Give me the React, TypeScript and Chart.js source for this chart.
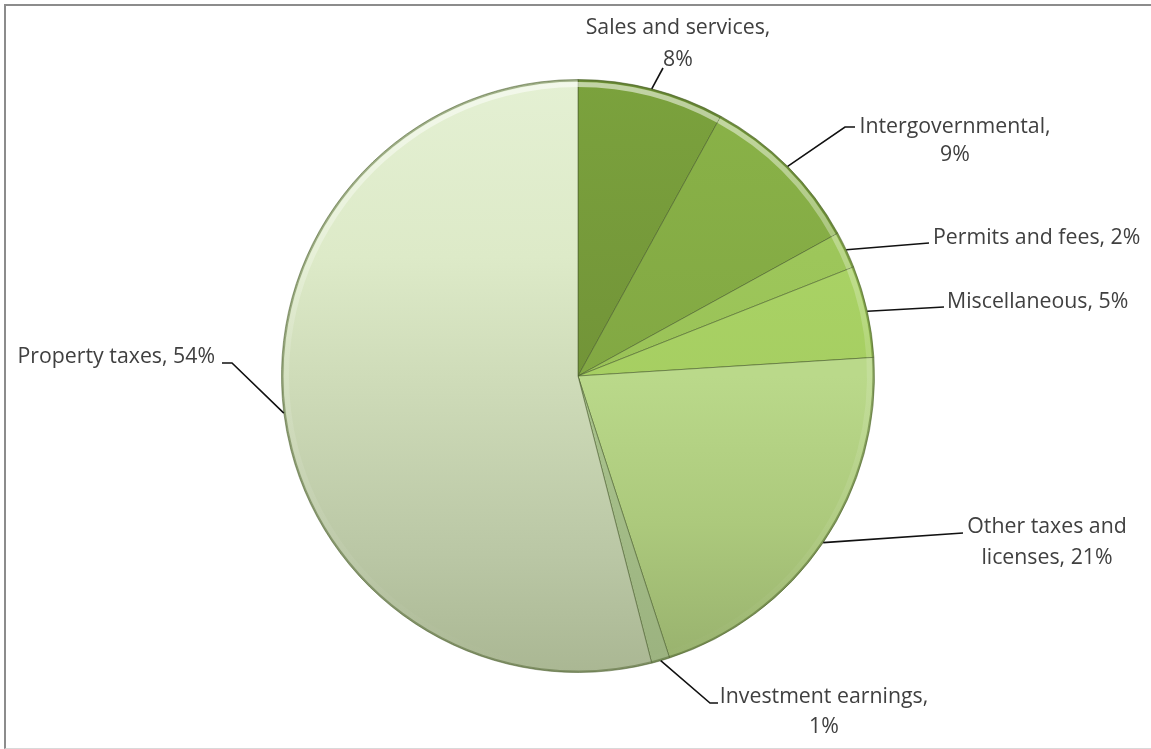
import React, { useEffect, useRef } from "react";
import { Chart, registerables } from "chart.js";

Chart.register(...registerables);

const categories = [
  "Sales and services",
  "Intergovernmental",
  "Permits and fees",
  "Miscellaneous",
  "Other taxes and licenses",
  "Investment earnings",
  "Property taxes",
];
const shares = [8, 9, 2, 5, 21, 1, 54];
const labelLines = [
  ["Sales and services,", "8%"],
  ["Intergovernmental,", "9%"],
  ["Permits and fees, 2%"],
  ["Miscellaneous, 5%"],
  ["Other taxes and", "licenses, 21%"],
  ["Investment earnings,", "1%"],
  ["Property taxes, 54%"],
];

// gradient stops per slice over the pie's vertical extent (0 = top, 1 = bottom)
const sliceStops: [number, string][][] = [
  [[0, "#7ba23d"], [0.5, "#729438"]],
  [[0, "#8ab348"], [0.5, "#82a843"]],
  [[0, "#a2cc5e"], [0.6, "#98c056"]],
  [[0, "#add768"], [0.6, "#a5cd61"]],
  [[0.5, "#bad98a"], [0.75, "#acc97c"], [1, "#97b06d"]],
  [[0.5, "#aac48e"], [1, "#9bb27f"]],
  [[0, "#e4f0d3"], [0.3, "#ddeac8"], [0.5, "#cfdcb9"], [0.8, "#bac7a5"], [1, "#aab793"]],
];

// leader line / text layout (pixel positions)
const layout = [
  { pts: [[663, 68]], cx: 678, ys: [28, 60], align: "center" },
  { pts: [[845, 127], [855, 127]], cx: 955, ys: [127, 155], align: "center" },
  { pts: [[929, 243]], cx: 933, ys: [238], align: "left" },
  { pts: [[944, 307]], cx: 947, ys: [302], align: "left" },
  { pts: [[963, 533]], cx: 1047, ys: [527, 558], align: "center" },
  { pts: [[710, 703], [718, 703]], cx: 824, ys: [697, 727], align: "center" },
  { pts: [[232, 363], [222, 363]], cx: 215, ys: [357], align: "right" },
];

const FONT = '21.3px "Open Sans", Lato, sans-serif';

const labelPlugin = {
  id: "leaderLabels",
  afterDatasetsDraw(chart: any) {
    const ctx = chart.ctx;
    const meta = chart.getDatasetMeta(0);
    const area = chart.chartArea;
    ctx.save();
    const hi = ctx.createLinearGradient(0, area.top, 0, area.bottom);
    hi.addColorStop(0, "rgba(255,255,255,0.55)");
    hi.addColorStop(0.45, "rgba(255,255,255,0.15)");
    hi.addColorStop(1, "rgba(255,255,255,0.0)");
    meta.data.forEach((arc: any) => {
      const p = arc.getProps(["x", "y", "startAngle", "endAngle", "outerRadius"], true);
      ctx.save();
      ctx.beginPath();
      ctx.moveTo(p.x, p.y);
      ctx.arc(p.x, p.y, p.outerRadius, p.startAngle, p.endAngle);
      ctx.closePath();
      ctx.clip();
      ctx.beginPath();
      ctx.arc(p.x, p.y, p.outerRadius - 5, p.startAngle, p.endAngle);
      ctx.strokeStyle = hi;
      ctx.lineWidth = 5;
      ctx.stroke();
      ctx.beginPath();
      ctx.arc(p.x, p.y, p.outerRadius - 1, p.startAngle, p.endAngle);
      ctx.strokeStyle = "rgba(70,90,40,0.45)";
      ctx.lineWidth = 2;
      ctx.stroke();
      ctx.restore();
    });
    ctx.font = FONT;
    ctx.fillStyle = "#404040";
    ctx.textBaseline = "middle";
    meta.data.forEach((arc: any, i: number) => {
      const p = arc.getProps(["x", "y", "startAngle", "endAngle", "outerRadius"], true);
      const mid = (p.startAngle + p.endAngle) / 2;
      const sx = p.x + Math.cos(mid) * p.outerRadius;
      const sy = p.y + Math.sin(mid) * p.outerRadius;
      const L = layout[i];
      ctx.beginPath();
      ctx.moveTo(sx, sy);
      L.pts.forEach((q: number[]) => ctx.lineTo(q[0], q[1]));
      ctx.strokeStyle = "#111";
      ctx.lineWidth = 1.6;
      ctx.stroke();
      labelLines[i].forEach((t: string, k: number) => {
        ctx.textAlign = L.align;
        ctx.fillText(t, L.cx, L.ys[k]);
      });
    });
    ctx.restore();
  },
};

export default function App() {
  const ref = useRef<HTMLCanvasElement>(null);
  useEffect(() => {
    document.body.style.margin = "0";
    const canvas = ref.current!;
    const chart = new Chart(canvas, {
      type: "pie",
      data: {
        labels: categories,
        datasets: [
          {
            data: shares,
            backgroundColor: (c: any) => {
              const stops = sliceStops[c.dataIndex];
              const area = c.chart.chartArea;
              if (!area) return stops[0][1];
              const g = c.chart.ctx.createLinearGradient(0, area.top, 0, area.bottom);
              stops.forEach((s) => g.addColorStop(s[0], s[1]));
              return g;
            },
            borderColor: "rgba(70,90,40,0.55)",
            borderWidth: 1,
          },
        ],
      },
      options: {
        responsive: false,
        animation: false,
        layout: { padding: { left: 281, right: 276, top: 79, bottom: 76 } },
        plugins: {
          legend: { display: false },
          tooltip: { enabled: false },
        },
      },
      plugins: [labelPlugin],
    });
    return () => chart.destroy();
  }, []);
  return (
    <div style={{ position: "relative", width: 1151, height: 749, background: "#fff", overflow: "hidden" }}>
      <canvas ref={ref} width={1151} height={749} style={{ display: "block" }} />
      <div
        style={{
          position: "absolute",
          left: 4,
          top: 4,
          width: 1160,
          height: 742,
          borderTop: "2px solid #8c8c8c",
          borderLeft: "2px solid #8c8c8c",
          borderBottom: "1px solid #d9d9d9",
          pointerEvents: "none",
        }}
      />
    </div>
  );
}
